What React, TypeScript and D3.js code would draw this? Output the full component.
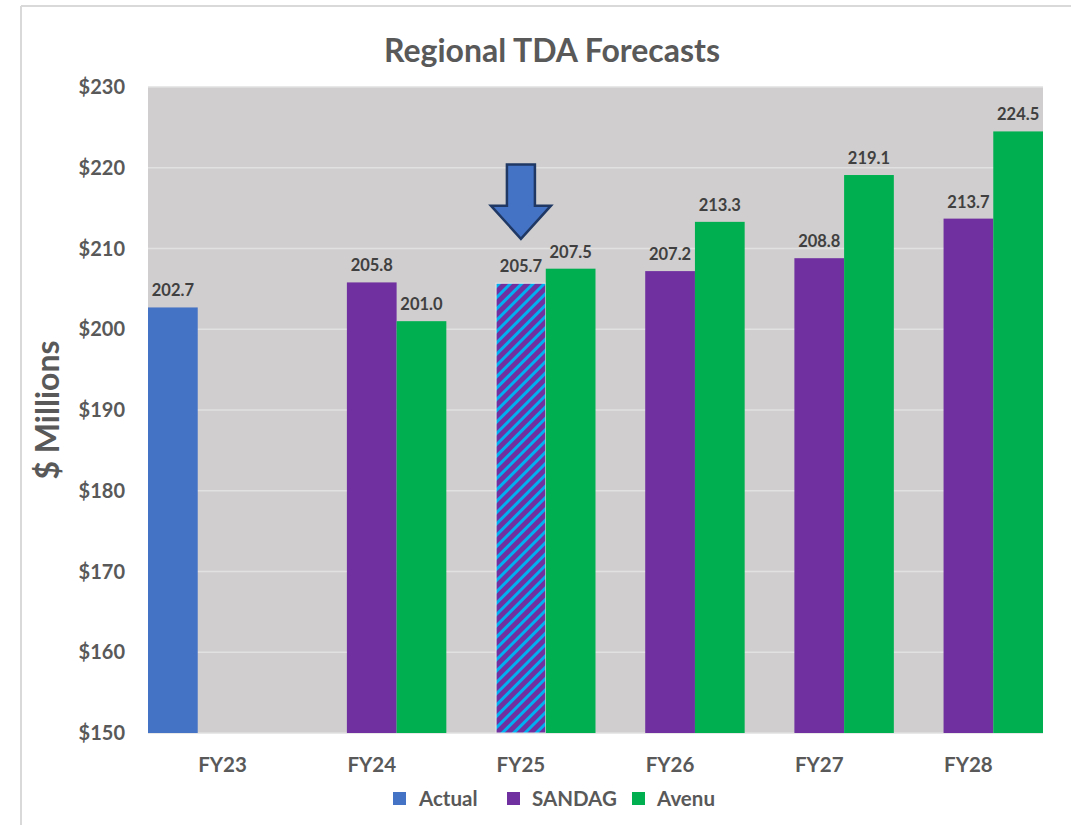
import React from "react";
import * as d3 from "d3";

const categories = ["FY23", "FY24", "FY25", "FY26", "FY27", "FY28"];
const seriesNames = ["Actual", "SANDAG", "Avenu"];
const actual: (number | null)[] = [202.7, null, null, null, null, null];
const sandag: (number | null)[] = [null, 205.8, 205.7, 207.2, 208.8, 213.7];
const avenu: (number | null)[] = [null, 201.0, 207.5, 213.3, 219.1, 224.5];
const yTicks = [150, 160, 170, 180, 190, 200, 210, 220, 230];
const colors = ["#4472C4", "#7030A0", "#00B050"];
const hatchedIndex = 2; // FY25 SANDAG bar is hatched

const W = 1071;
const H = 825;
const FONT = "Lato, 'Open Sans', sans-serif";

export default function App() {
  const x = d3.scaleBand<string>().domain(categories).range([148, 1043]).padding(0);
  const xs = d3.scaleBand<string>().domain(seriesNames).range([0, x.bandwidth()]).padding(0);
  const y = d3.scaleLinear().domain([150, 230]).range([733, 87]);
  const allSeries = [actual, sandag, avenu];

  // arrow annotation anchored to FY25 SANDAG bar
  const ax = (x("FY25") as number) + (xs("SANDAG") as number) + xs.bandwidth() / 2;
  const aTop = y(220.4);
  const aHead = y(215.3);
  const aTip = y(211.2);
  const shaftW = 14;
  const headW = 30;
  const arrowPath = `M${ax - shaftW},${aTop} L${ax + shaftW},${aTop} L${ax + shaftW},${aHead} L${ax + headW},${aHead} L${ax},${aTip} L${ax - headW},${aHead} L${ax - shaftW},${aHead} Z`;

  const legendItems = [
    { name: "Actual", sx: 393, tx: 419 },
    { name: "SANDAG", sx: 507, tx: 532 },
    { name: "Avenu", sx: 632, tx: 657 },
  ];

  return (
    <svg width={W} height={H} style={{ position: "absolute", left: 0, top: 0, background: "#fff" }} fontFamily={FONT}>
      <defs>
        <pattern id="hatch" width="8" height="8" patternUnits="userSpaceOnUse" patternTransform="rotate(45)">
          <rect width="8" height="8" fill="#7030A0" />
          <rect width="3" height="8" fill="#00B0F0" />
        </pattern>
      </defs>
      {/* chart border */}
      <line x1={21} y1={6} x2={1071} y2={6} stroke="#D9D9D9" strokeWidth={2} />
      <line x1={21} y1={6} x2={21} y2={825} stroke="#D9D9D9" strokeWidth={2} />

      {/* title */}
      <text x={552} y={62} textAnchor="middle" fontSize={32} fontWeight={700} fill="#595959">
        Regional TDA Forecasts
      </text>

      {/* plot area */}
      <rect x={148} y={87} width={1043 - 148} height={733 - 87} fill="#D0CECE" />
      {yTicks.map((t) => (
        <line key={t} x1={148} x2={1043} y1={y(t)} y2={y(t)} stroke="#E2E1E1" strokeWidth={1.5} />
      ))}

      {/* bars */}
      {allSeries.map((vals, si) =>
        vals.map((v, ci) => {
          if (v == null) return null;
          const bx = (x(categories[ci]) as number) + (xs(seriesNames[si]) as number);
          const hatched = si === 1 && ci === hatchedIndex;
          return (
            <g key={`${si}-${ci}`}>
              <rect
                x={bx}
                y={y(v)}
                width={xs.bandwidth()}
                height={y(150) - y(v)}
                fill={hatched ? "url(#hatch)" : colors[si]}
                stroke={hatched ? "#E6E6E6" : "none"}
                strokeWidth={hatched ? 1 : 0}
              />
              <text
                x={bx + xs.bandwidth() / 2}
                y={y(v) - 11}
                textAnchor="middle"
                fontSize={16.5}
                fontWeight={700}
                fill="#404040"
              >
                {v.toFixed(1)}
              </text>
            </g>
          );
        })
      )}

      {/* y ticks */}
      {yTicks.map((t) => (
        <text key={t} x={125} y={y(t) + 7} textAnchor="end" fontSize={20} fontWeight={700} fill="#595959">
          {`$${t}`}
        </text>
      ))}

      {/* x labels */}
      {categories.map((c) => (
        <text
          key={c}
          x={(x(c) as number) + x.bandwidth() / 2}
          y={772}
          textAnchor="middle"
          fontSize={20.5}
          fontWeight={700}
          fill="#595959"
        >
          {c}
        </text>
      ))}

      {/* y axis title */}
      <text
        transform={`translate(59,${(y(150) + y(230)) / 2}) rotate(-90)`}
        textAnchor="middle"
        fontSize={32}
        fontWeight={700}
        fill="#595959"
      >
        $ Millions
      </text>

      {/* arrow */}
      <path d={arrowPath} fill="#4472C4" stroke="#1F3864" strokeWidth={2.5} strokeLinejoin="miter" />

      {/* legend */}
      {legendItems.map((it, i) => (
        <g key={it.name}>
          <rect x={it.sx} y={792} width={13} height={13} fill={colors[i]} />
          <text x={it.tx} y={806} fontSize={20.5} fontWeight={700} fill="#595959">
            {it.name}
          </text>
        </g>
      ))}
    </svg>
  );
}
